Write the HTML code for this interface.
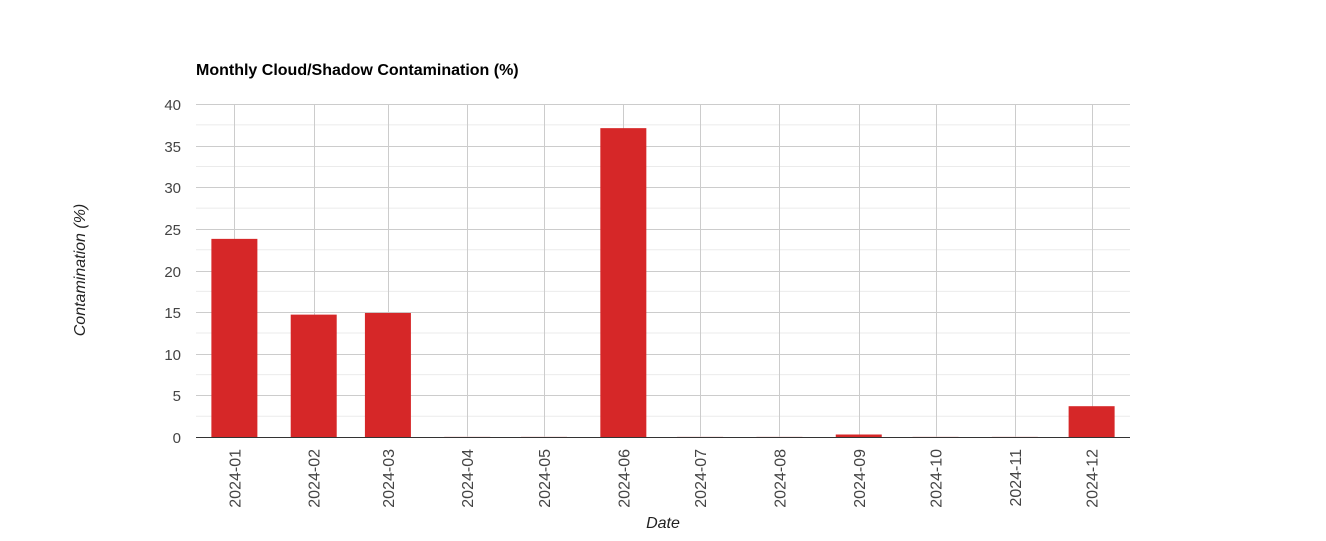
<!DOCTYPE html>
<html><head><meta charset="utf-8"><style>
body{margin:0;background:#fff;}
svg{display:block;font-family:"Liberation Sans",Arial,sans-serif;}
</style></head><body>
<svg id="chart" width="1326" height="541">
<text x="196" y="75" font-size="16" font-weight="bold" fill="#000">Monthly Cloud/Shadow Contamination (%)</text>
<text transform="translate(85,270) rotate(-90)" text-anchor="middle" font-size="16" font-style="italic" fill="#222">Contamination (%)</text>
<text x="663" y="528" text-anchor="middle" font-size="16" font-style="italic" fill="#222">Date</text>
<g id="grid"></g><g id="bars"></g><g id="labels"></g>
</svg>
<script>
const categories=["2024-01","2024-02","2024-03","2024-04","2024-05","2024-06","2024-07","2024-08","2024-09","2024-10","2024-11","2024-12"];
const values=[23.8,14.7,14.9,0.05,0.05,37.1,0.05,0.05,0.3,0.05,0.05,3.7];
const yTicks=[0,5,10,15,20,25,30,35,40];
const NS="http://www.w3.org/2000/svg";
const L=196,R=1130,T=104,B=437,yMax=40;
const t0=Date.UTC(2023,11,17),t1=Date.UTC(2024,11,16);
function xs(c){const [y,m]=c.split('-').map(Number);return L+(Date.UTC(y,m-1,1)-t0)/(t1-t0)*(R-L);}
function ys(v){return B-v/yMax*(B-T);}
function mk(tag,a,p){const e=document.createElementNS(NS,tag);for(const k in a)e.setAttribute(k,a[k]);p.appendChild(e);return e;}
const g=document.getElementById('grid'),gb=document.getElementById('bars'),gl=document.getElementById('labels');
for(let i=0;i<yTicks.length-1;i++){const v=(yTicks[i]+yTicks[i+1])/2;
 const l=mk('line',{x1:L,x2:R,y1:ys(v),y2:ys(v),stroke:'#ebebeb'},g);
 }
yTicks.forEach(v=>{const y=Math.round(ys(v))+0.5;
 const l=mk('line',{x1:L,x2:R,y1:y,y2:y,stroke:'#ccc'},g);
 
 const t=mk('text',{x:181,y:y+5.5,'text-anchor':'end','font-size':15,fill:'#444'},gl);t.textContent=v;
 });
categories.forEach((c,i)=>{const x=Math.round(xs(c))+0.5;
 const l=mk('line',{x1:x,x2:x,y1:T,y2:B,stroke:'#ccc'},g);
 
 const y0=ys(values[i]);
 const b=mk('rect',{x:xs(c)-23,y:y0,width:46,height:B-y0,fill:values[i]<0.1?'#f0c8c8':'#d62728'},gb);
 
 const t=mk('text',{transform:`translate(${xs(c)+6},449) rotate(-90)`,'text-anchor':'end','font-size':16,fill:'#444'},gl);t.textContent=c;
 });
const ax=mk('line',{x1:L,x2:R,y1:B+0.5,y2:B+0.5,stroke:'#333'},gl);

</script>
</body></html>
